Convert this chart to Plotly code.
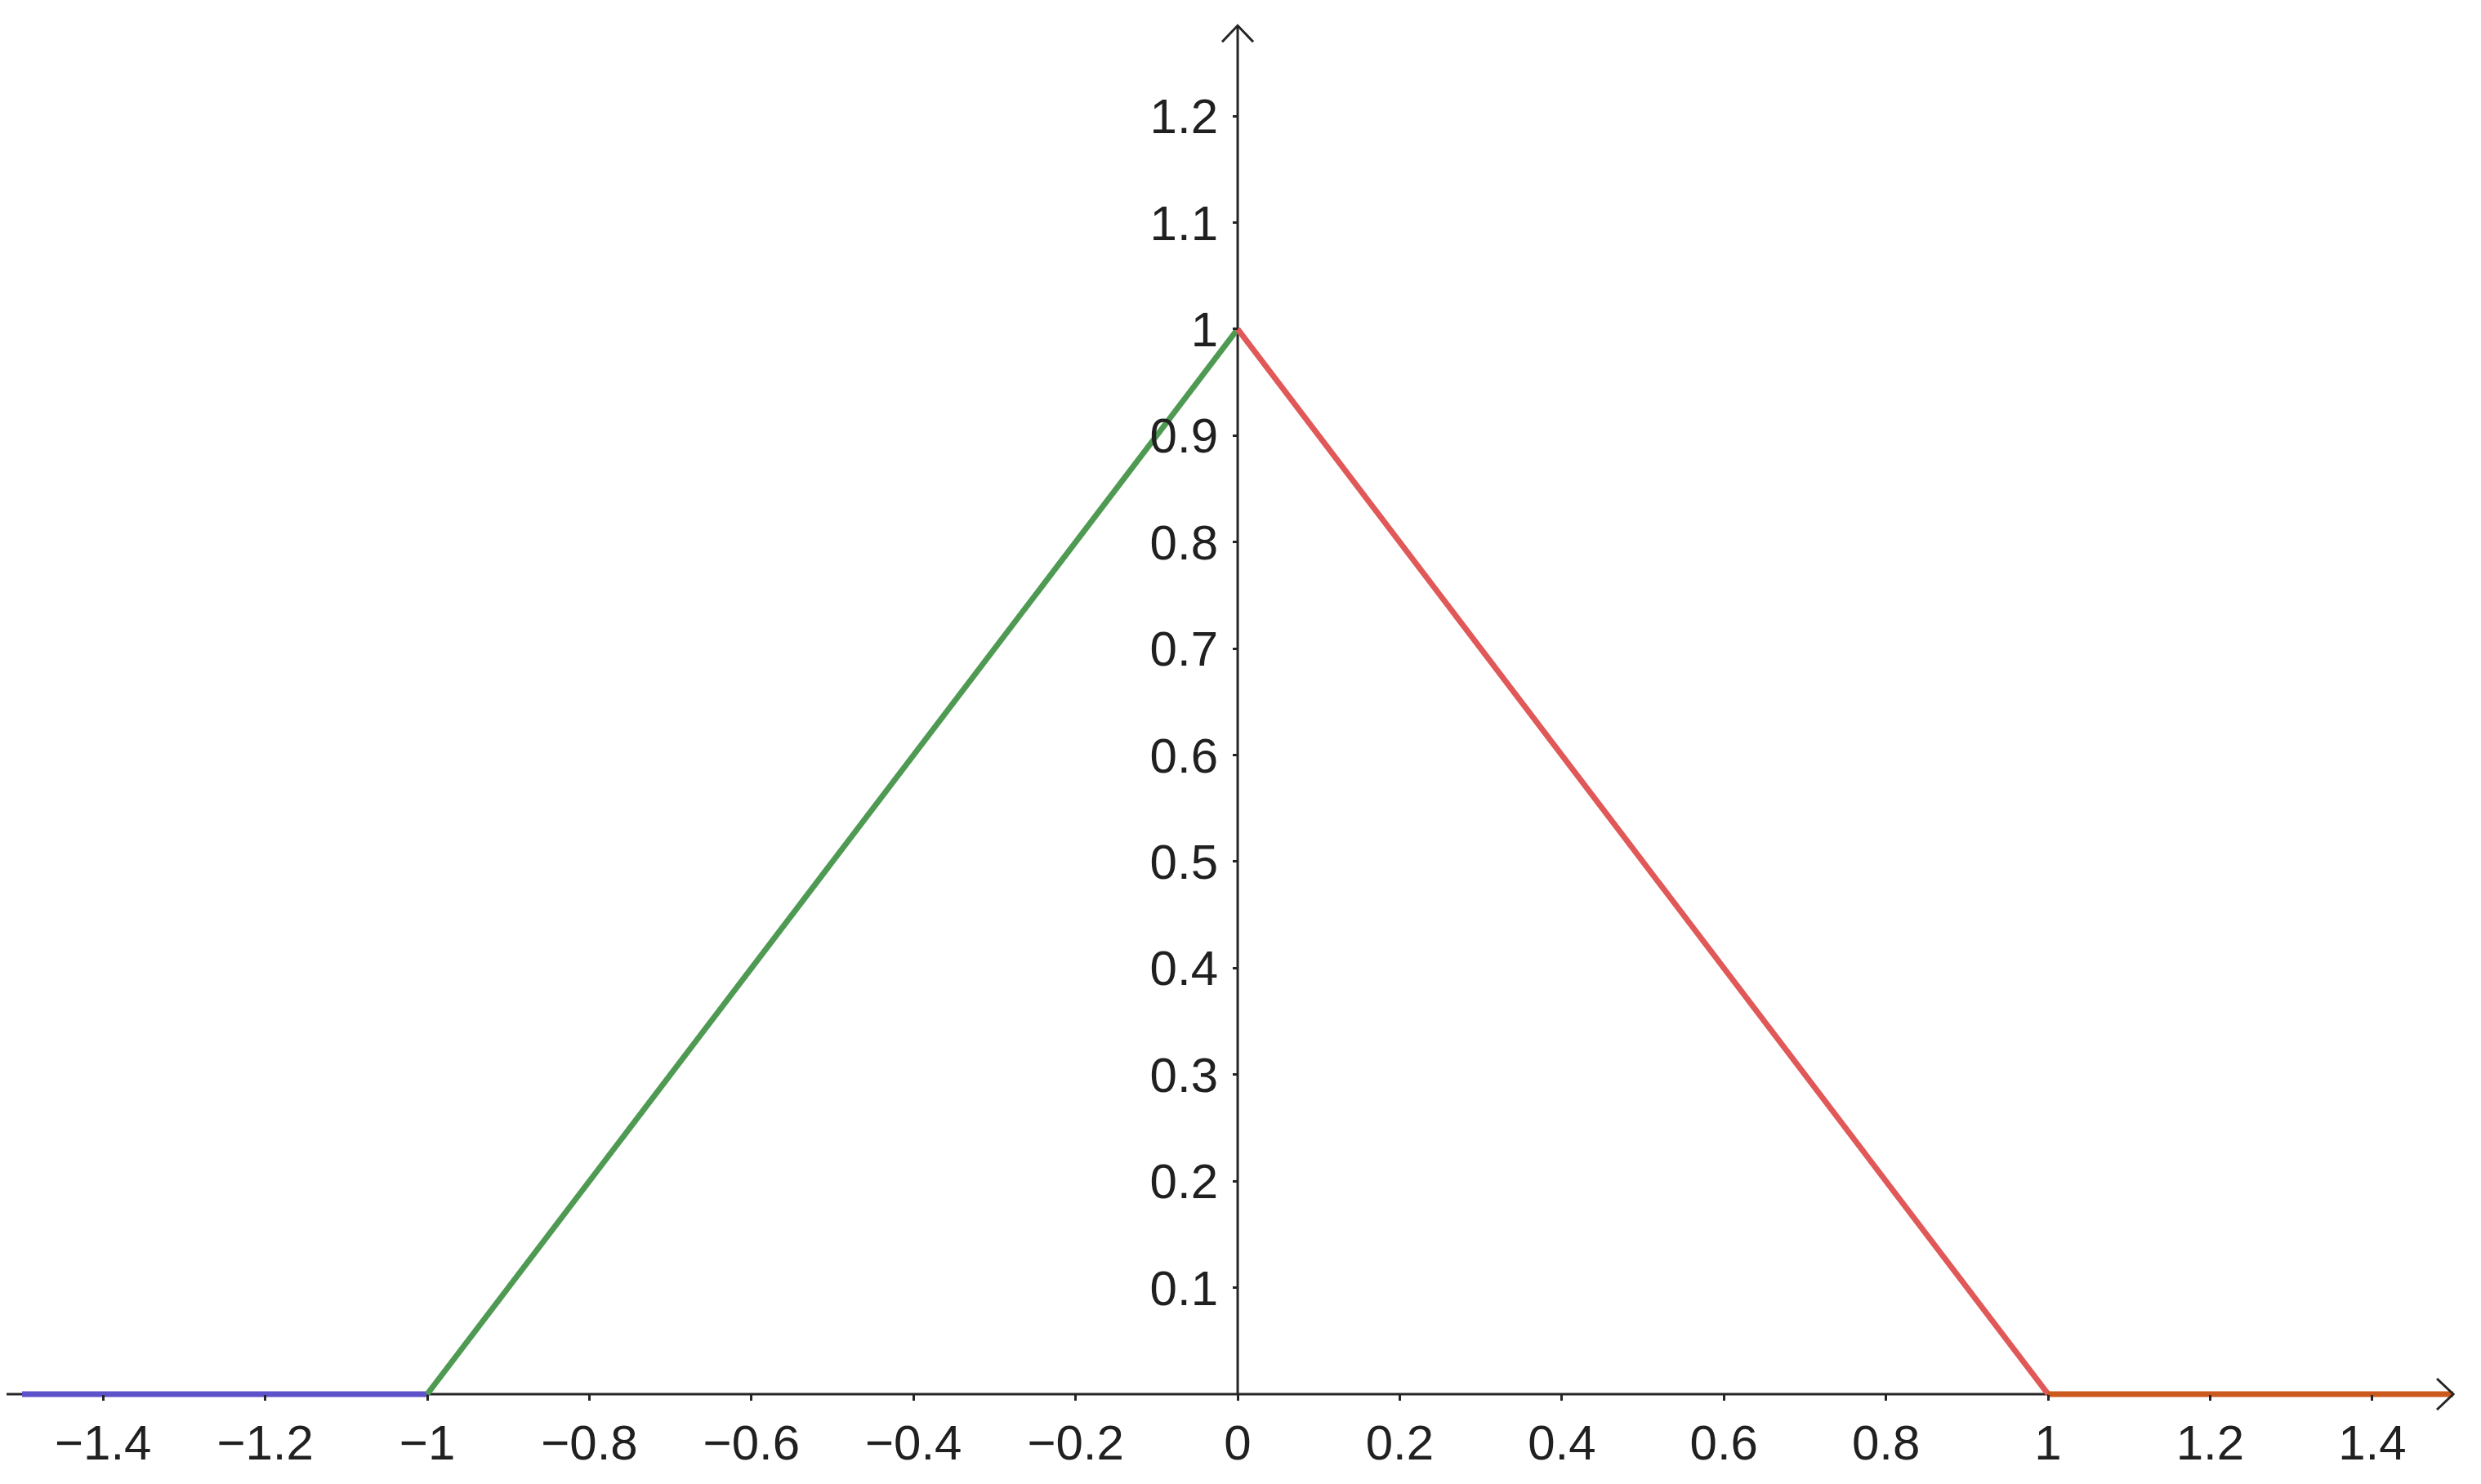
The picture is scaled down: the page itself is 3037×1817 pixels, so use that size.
import plotly.graph_objects as go

# Piecewise segments (data)
blue_x = [-1.5, -1.0]
blue_y = [0.0, 0.0]
green_x = [-1.0, 0.0]
green_y = [0.0, 1.0]
red_x = [0.0, 1.0]
red_y = [1.0, 0.0]
orange_x = [1.0, 1.5]
orange_y = [0.0, 0.0]

x_tickvals = [-1.4, -1.2, -1.0, -0.8, -0.6, -0.4, -0.2, 0.0, 0.2, 0.4, 0.6, 0.8, 1.0, 1.2, 1.4]
x_ticktext = ["\u22121.4", "\u22121.2", "\u22121", "\u22120.8", "\u22120.6", "\u22120.4", "\u22120.2",
              "0", "0.2", "0.4", "0.6", "0.8", "1", "1.2", "1.4"]
y_tickvals = [0.1, 0.2, 0.3, 0.4, 0.5, 0.6, 0.7, 0.8, 0.9, 1.0, 1.1, 1.2]
y_ticktext = ["0.1", "0.2", "0.3", "0.4", "0.5", "0.6", "0.7", "0.8", "0.9", "1", "1.1", "1.2"]

W, H = 3037, 1817
XMIN, XMAX = -1.5192, 1.5423
YMIN, YMAX = -0.0905, 1.3029
px_x = (XMAX - XMIN) / W
px_y = (YMAX - YMIN) / H

fig = go.Figure()
for xs, ys, col in [(blue_x, blue_y, "#5d52c9"), (green_x, green_y, "#4f9a53"),
                    (red_x, red_y, "#e05858"), (orange_x, orange_y, "#cc5a1f")]:
    fig.add_trace(go.Scatter(x=xs, y=ys, mode="lines", line=dict(color=col, width=7),
                             showlegend=False, hoverinfo="skip"))

axis_col = "#252525"
x_tip = 1.5
y_tip = 1.285
shapes = [
    dict(type="line", xref="x", yref="y", x0=XMIN, x1=x_tip, y0=0, y1=0,
         line=dict(color=axis_col, width=3), layer="below"),
    dict(type="line", xref="x", yref="y", x0=0, x1=0, y0=0, y1=y_tip,
         line=dict(color=axis_col, width=3), layer="below"),
    dict(type="path", xref="x", yref="y",
         path=f"M {-19*px_x} {y_tip-20*px_y} L 0 {y_tip} L {19*px_x} {y_tip-20*px_y}",
         line=dict(color=axis_col, width=3), layer="above"),
    dict(type="path", xref="x", yref="y",
         path=f"M {x_tip-20*px_x} {19*px_y} L {x_tip} 0 L {x_tip-20*px_x} {-19*px_y}",
         line=dict(color=axis_col, width=3), layer="above"),
]

xpos = (0 - YMIN) / (YMAX - YMIN)
ypos = (0 - XMIN) / (XMAX - XMIN)

font = dict(family="Liberation Sans, Arial, sans-serif", size=60, color="#202020")

fig.update_layout(
    width=W, height=H,
    margin=dict(l=0, r=0, t=0, b=0),
    paper_bgcolor="white", plot_bgcolor="white",
    shapes=shapes,
    xaxis=dict(range=[XMIN, XMAX], showgrid=False, zeroline=False, showline=False,
               tickmode="array", tickvals=x_tickvals, ticktext=x_ticktext,
               ticks="outside", ticklen=7, tickwidth=2.5, tickcolor=axis_col,
               tickfont=font, anchor="free", position=xpos, ticklabelstandoff=0),
    yaxis=dict(range=[YMIN, YMAX], showgrid=False, zeroline=False, showline=False,
               tickmode="array", tickvals=y_tickvals, ticktext=y_ticktext,
               ticks="outside", ticklen=6, tickwidth=2.5, tickcolor=axis_col,
               tickfont=font, anchor="free", position=ypos, ticklabelstandoff=6),
)

fig.write_html("out.html")
